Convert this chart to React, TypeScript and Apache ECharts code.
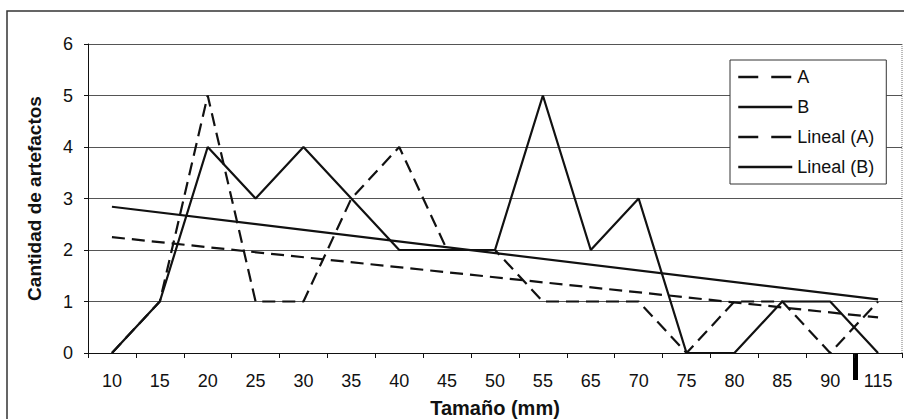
import React, { useEffect, useRef } from "react";
import * as echarts from "echarts";

const categories = ["10", "15", "20", "25", "30", "35", "40", "45", "50", "55", "65", "70", "75", "80", "85", "90", "115"];
const seriesA = [0, 1, 5, 1, 1, 3, 4, 2, 2, 1, 1, 1, 0, 1, 1, 0, 1];
const seriesB = [0, 1, 4, 3, 4, 3, 2, 2, 2, 5, 2, 3, 0, 0, 1, 1, 0];
// trend lines: value at first and last category
const trendA = [2.25, null, null, null, null, null, null, null, null, null, null, null, null, null, null, null, 0.69];
const trendB = [2.84, null, null, null, null, null, null, null, null, null, null, null, null, null, null, null, 1.04];
const yTicks = [0, 1, 2, 3, 4, 5, 6];

const FONT = "'Liberation Sans', Arial, sans-serif";
const INK = "#111";
const DASH = [13, 7];
const LEGEND_DASH = [20, 13];

export default function App() {
  const ref = useRef<HTMLDivElement>(null);
  useEffect(() => {
    document.body.style.margin = "0";
    const chart = echarts.init(ref.current!, null, { renderer: "svg" });
    const lineSeries = (name: string, data: any[], dashed: boolean, width: number) => ({
      name,
      type: "line",
      data,
      symbol: "none",
      connectNulls: true,
      lineStyle: { color: INK, width, type: dashed ? DASH : "solid" },
      itemStyle: { color: INK },
      z: 3,
    });
    chart.setOption({
      animation: false,
      backgroundColor: "#fff",
      textStyle: { fontFamily: FONT },
      grid: { left: 88, right: 2, top: 44, bottom: 66, containLabel: false, outerBoundsMode: "none" },
      legend: {
        orient: "vertical",
        left: 730,
        top: 60,
        padding: [8, 12, 8, 7],
        itemWidth: 54,
        itemHeight: 14,
        itemGap: 12,
        borderColor: "#333",
        borderWidth: 1,
        backgroundColor: "#fff",
        itemStyle: { opacity: 0 },
        textStyle: { fontFamily: FONT, fontSize: 18, color: INK },
        data: [
          { name: "A", lineStyle: { type: LEGEND_DASH, width: 2.5 } },
          { name: "B", lineStyle: { width: 2.5 } },
          { name: "Lineal (A)", lineStyle: { type: LEGEND_DASH, width: 2.5 } },
          { name: "Lineal (B)", lineStyle: { width: 2.5 } },
        ],
      },
      xAxis: {
        type: "category",
        data: categories,
        boundaryGap: true,
        name: "Tamaño (mm)",
        nameLocation: "middle",
        nameGap: 45,
        nameTextStyle: { fontFamily: FONT, fontSize: 20, fontWeight: "bold", color: INK },
        axisLine: { lineStyle: { color: INK, width: 1 } },
        axisTick: { show: true, alignWithLabel: false, length: 5, lineStyle: { color: INK } },
        axisLabel: { fontFamily: FONT, fontSize: 18, color: INK, margin: 19, interval: 0 },
        splitLine: { show: false },
      },
      yAxis: {
        type: "value",
        min: 0,
        max: 6,
        interval: 1,
        name: "Cantidad de artefactos",
        nameLocation: "middle",
        nameGap: 44,
        nameTextStyle: { fontFamily: FONT, fontSize: 19, fontWeight: "bold", color: INK },
        axisLine: { show: true, lineStyle: { color: INK, width: 1 } },
        axisTick: { show: true, length: 4, lineStyle: { color: INK } },
        axisLabel: {
          fontFamily: FONT,
          fontSize: 18,
          color: INK,
          margin: 15,
          formatter: (v: number) => (yTicks.includes(v) ? String(v) : ""),
        },
        splitLine: { show: true, lineStyle: { color: "#555", width: 1 } },
      },
      series: [
        lineSeries("A", seriesA, true, 2.2),
        lineSeries("B", seriesB, false, 2.2),
        lineSeries("Lineal (A)", trendA, true, 2.2),
        lineSeries("Lineal (B)", trendB, false, 2.2),
      ],
      graphic: [
        {
          type: "rect",
          shape: { x: 7, y: 11, width: 920, height: 430 },
          style: { fill: "none", stroke: "#333", lineWidth: 1.5 },
          silent: true,
        },
        {
          type: "line",
          shape: { x1: 902, y1: 44, x2: 902, y2: 353 },
          style: { stroke: "#777", lineWidth: 1, lineDash: [1, 1] },
          silent: true,
        },
        {
          type: "rect",
          shape: { x: 853, y: 354, width: 5, height: 26 },
          style: { fill: "#000" },
          silent: true,
        },
      ],
    });
    return () => chart.dispose();
  }, []);
  return <div ref={ref} style={{ width: 904, height: 419 }} />;
}
